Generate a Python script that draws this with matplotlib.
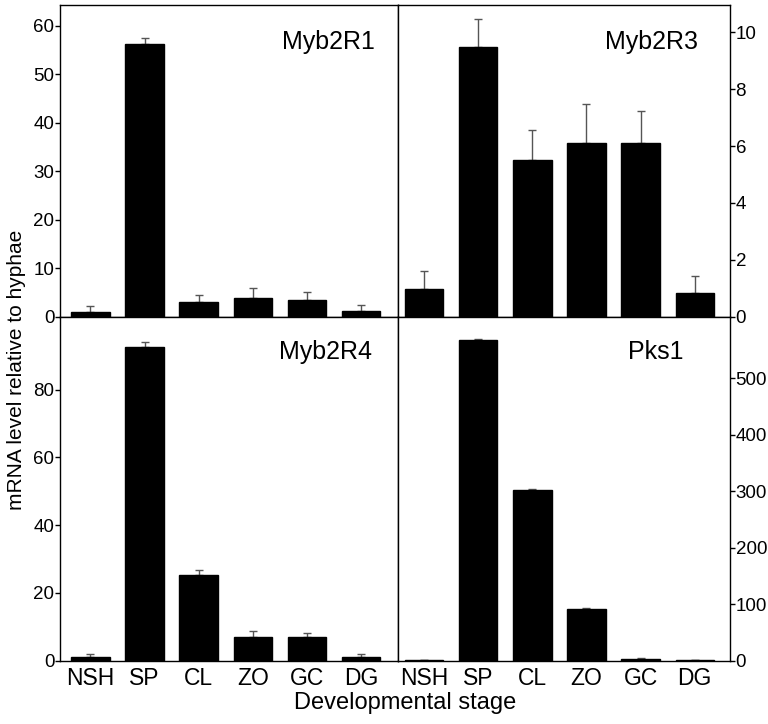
import matplotlib
matplotlib.use("Agg")
import matplotlib.pyplot as plt
import numpy as np

plt.rcParams['font.family'] = ['Liberation Sans', 'DejaVu Sans']

stages = ["NSH", "SP", "CL", "ZO", "GC", "DG"]

myb2r1 = [1.0, 56.2, 3.0, 3.9, 3.4, 1.2]
myb2r1_err = [1.2, 1.2, 1.45, 2.0, 1.65, 1.2]

myb2r3 = [0.96, 9.5, 5.5, 6.1, 6.1, 0.82]
myb2r3_err = [0.65, 0.98, 1.07, 1.38, 1.15, 0.6]

myb2r4 = [1.1, 92.6, 25.2, 6.8, 6.8, 0.9]
myb2r4_err = [0.7, 1.4, 1.4, 1.85, 1.4, 0.9]

pks1 = [0.5, 566.7, 302.5, 90.4, 2.9, 0.5]
pks1_err = [0.5, 2.0, 2.0, 2.0, 2.0, 0.5]

W, H = 768, 724
fig = plt.figure(figsize=(W / 100, H / 100), dpi=100)


def px_axes(x0, x1, y0, y1):
    return fig.add_axes([x0 / W, (H - y1) / H, (x1 - x0) / W, (y1 - y0) / H])


xl, xm, xr = 60, 398, 730
yt, ym, yb = 5, 316.7, 660.5

panels = [
    (px_axes(xl, xm, yt, ym), myb2r1, myb2r1_err, "Myb2R1", (0, 64.3), [0, 10, 20, 30, 40, 50, 60], "left", False, (-0.56, 5.68), (375, 42)),
    (px_axes(xm, xr, yt, ym), myb2r3, myb2r3_err, "Myb2R3", (0, 10.96), [0, 2, 4, 6, 8, 10], "right", False, (-0.48, 5.65), (698, 42)),
    (px_axes(xl, xm, ym, yb), myb2r4, myb2r4_err, "Myb2R4", (0, 101.5), [0, 20, 40, 60, 80], "left", True, (-0.56, 5.68), (372, 352)),
    (px_axes(xm, xr, ym, yb), pks1, pks1_err, "Pks1", (0, 608.7), [0, 100, 200, 300, 400, 500], "right", True, (-0.48, 5.65), (683, 352)),
]

x = np.arange(len(stages))
for ax, vals, errs, title, ylim, yticks, side, show_x, xlim, tpos in panels:
    ax.bar(x, vals, width=0.71, color="black", edgecolor="black", zorder=2)
    ax.errorbar(x, vals, yerr=[np.zeros(len(vals)), errs], fmt="none",
                ecolor="#555555", elinewidth=1.0, capsize=3, capthick=1.0, zorder=1)
    ax.set_xlim(*xlim)
    ax.set_ylim(*ylim)
    ax.set_yticks(yticks)
    if side == "right":
        ax.yaxis.tick_right()
    ax.tick_params(axis="y", direction="out", length=3.5, width=1, labelsize=13.5, pad=0.5)
    ax.set_xticks(x)
    if show_x:
        ax.set_xticklabels(stages, fontsize=16.5)
        ax.tick_params(axis="x", length=0, pad=5)
    else:
        ax.set_xticklabels([])
        ax.tick_params(axis="x", length=0)
    for s in ax.spines.values():
        s.set_linewidth(1.0)
    fig.text(tpos[0] / W, (H - tpos[1]) / H, title, ha="right", va="center", fontsize=18)

fig.text(17 / W, (H - 370) / H, "mRNA level relative to hyphae", rotation=90,
         ha="center", va="center", fontsize=15)
fig.text(405 / W, (H - 703) / H, "Developmental stage", ha="center", va="center", fontsize=17)

fig.savefig("out.png", dpi=100)
